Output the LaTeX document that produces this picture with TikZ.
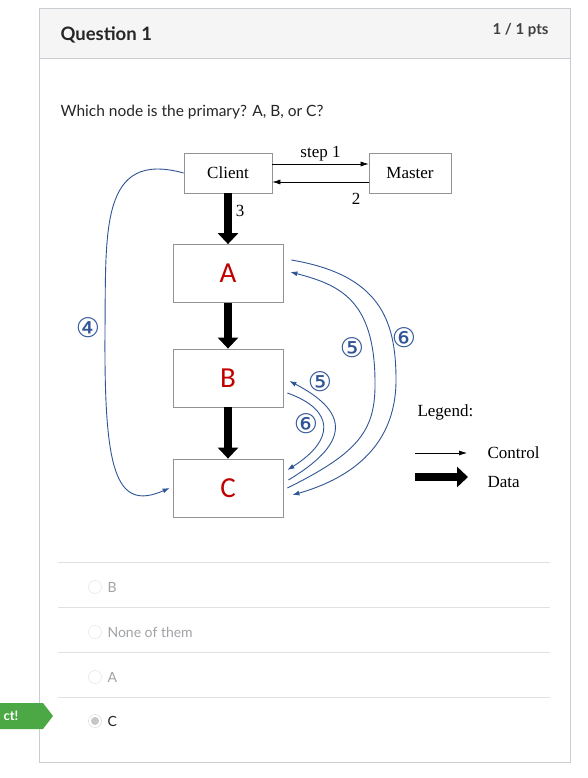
\documentclass[tikz,border=0pt]{standalone}
\usepackage{fontspec}
\setmainfont{Lato}
\newfontfamily\tms{Liberation Serif}
\newfontfamily\calfont{Carlito}
\newfontfamily\circfont{DejaVu Sans}
\usetikzlibrary{arrows.meta}

\definecolor{cardline}{RGB}{199,205,209}
\definecolor{headfill}{RGB}{245,245,245}
\definecolor{sepline}{RGB}{225,225,225}
\definecolor{optgray}{RGB}{160,163,166}
\definecolor{flowblue}{RGB}{47,85,151}
\definecolor{nodered}{RGB}{192,0,0}
\definecolor{taggreen}{RGB}{76,168,68}

\tikzset{
  box/.style={draw=gray!85, line width=0.8pt, inner sep=0pt},
  server/.style={box, minimum width=110, minimum height=58,
    text=nodered, font=\calfont\fontsize{29}{30}\selectfont},
  ctl/.style={line width=0.6pt, -{Latex[length=8pt,width=5pt]}},
  data/.style={line width=7.5pt, -{Triangle[length=11pt,width=20pt]}},
  flow/.style={flowblue, line width=0.9pt, -{Latex[length=7pt,width=5pt]}},
  circ/.style={flowblue, font=\circfont\fontsize{27}{27}\selectfont},
  lbl/.style={font=\tms\fontsize{17}{18}\selectfont},
  radio/.style={circle, draw=gray!25, fill=white, minimum size=13, inner sep=0pt},
  opt/.style={anchor=west, text=optgray, font=\fontsize{14}{16}\selectfont}
}

\begin{document}
\begin{tikzpicture}[x=1pt, y=-1pt]
  \useasboundingbox (0,0) rectangle (588,778);

  % card and header
  \fill[white] (39,8) rectangle (570,762);
  \fill[headfill] (39,8) rectangle (570,58);
  \draw[cardline] (39,58) -- (570,58);
  \draw[cardline] (39,8) rectangle (570,762);
  \node[anchor=west, font=\bfseries\fontsize{18.5}{20}\selectfont, text=black!85] (qtitle) at (57,35) {Question 1};
  \node[anchor=east, font=\bfseries\fontsize{15}{18}\selectfont, text=black!75] (qpts) at (552,30) {1 / 1 pts};
  \node[anchor=west, font=\fontsize{15.5}{18}\selectfont, text=black!85] (qtext) at (57,112) {Which node is the primary? A, B, or C?};

  % Draw the boxes
  \node[box, lbl, minimum width=88, minimum height=40] (client) at (228,173) {Client};
  \node[box, lbl, minimum width=82, minimum height=40] (master) at (410,173) {Master};
  \node[server] (A) at (228,273.5) {A};
  \node[server] (B) at (228,378) {B};
  \node[server] (C) at (228,488) {C};

  % control messages
  \draw[ctl] ([yshift=9pt]client.east) -- node[lbl, above=-1pt]{step 1} ([yshift=9pt]master.west);
  \draw[ctl] ([yshift=-9pt]master.west) -- ([yshift=-9pt]client.east);
  \node[lbl] (two) at (356,199) {2};

  % data pushes
  \draw[data] (client.south) -- (A.north);
  \node[lbl] (three) at (240,211) {3};
  \draw[data] (A.south) -- (B.north);
  \draw[data] (B.south) -- (C.north);

  % Draw the blue curves
  \draw[flow] (client.west) .. controls (100,150) and (106,230) .. (105,330)
    .. controls (104,470) and (115,512) .. ([xshift=-3pt]C.west);
  \node[circ] (n4) at (88,328) {④};

  \draw[flow] ([xshift=8pt,yshift=13.5pt]A.east) .. controls (380,275) and (396,320) .. (396,380)
    .. controls (396,450) and (345,480) .. ([xshift=9pt,yshift=-7pt]C.east);
  \draw[flow] ([xshift=4pt]C.east) .. controls (360,452) and (376,430) .. (375,380)
    .. controls (374,300) and (340,285) .. ([xshift=7pt,yshift=1.5pt]A.east);
  \node[circ] (n5a) at (352,348) {⑤};
  \node[circ] (n6a) at (404,338) {⑥};

  \draw[flow] ([xshift=5pt,yshift=8pt]C.east) .. controls (355,440) and (345,410) .. ([xshift=6pt,yshift=-3pt]B.east);
  \draw[flow] ([xshift=4pt,yshift=-15pt]B.east) .. controls (335,410) and (335,440) .. ([xshift=4pt,yshift=18pt]C.east);
  \node[circ] (n5b) at (320,382) {⑤};
  \node[circ] (n6b) at (306,424) {⑥};

  % legend
  \node[lbl, anchor=west] (legend) at (414,412) {Legend:};
  \coordinate (ctla) at (415,453);
  \coordinate (ctlb) at (467,453);
  \draw[ctl] (ctla) -- (ctlb);
  \node[lbl, anchor=west] (ctltext) at (484,453) {Control};
  \coordinate (dataa) at (415,477);
  \coordinate (datab) at (468,477);
  \draw[data] (dataa) -- (datab);
  \node[lbl, anchor=west] (datatext) at (484,482) {Data};

  % answers
  \foreach \y in {562,607,652,697}
    \draw[sepline] (58,\y) -- (550,\y);
  \node[radio] (r1) at (95,587) {};
  \node[opt] (o1) at (104,587) {B};
  \node[radio] (r2) at (95,632) {};
  \node[opt] (o2) at (104,632) {None of them};
  \node[radio] (r3) at (95,677) {};
  \node[opt] (o3) at (104,677) {A};
  \node[radio, draw=gray!35] (r4) at (95,721) {};
  \fill[gray!45] (r4.center) circle (4);
  \node[opt, text=black!85] (o4) at (104,721) {C};

  % correct tag
  \fill[taggreen] (0,703) -- (43,703) -- (53,716) -- (43,729) -- (0,729) -- cycle;
  \node[anchor=west, text=white, font=\bfseries\fontsize{13}{14}\selectfont] (tag) at (0,716) {ct!};
\end{tikzpicture}
\end{document}
